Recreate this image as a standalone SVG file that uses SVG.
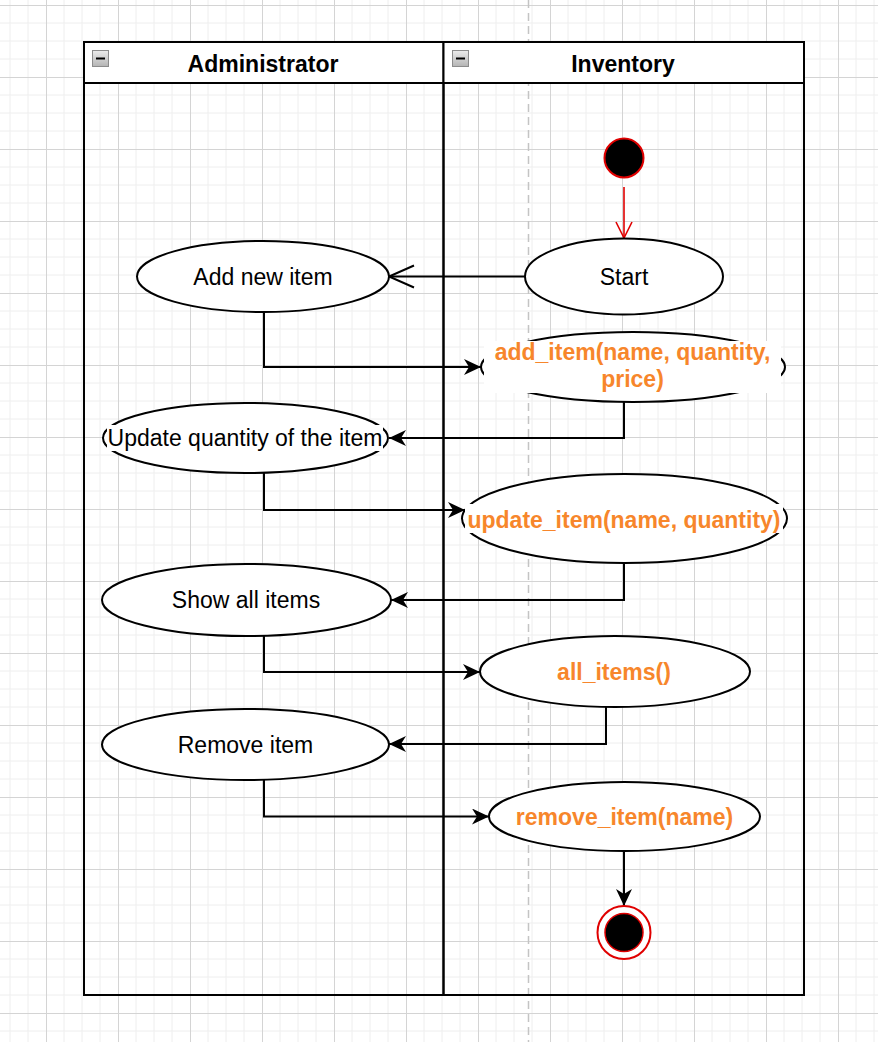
<svg xmlns="http://www.w3.org/2000/svg" width="878" height="1042" viewBox="0 0 878 1042">
  <defs>
    <pattern id="grid" patternUnits="userSpaceOnUse" x="46" y="5" width="72" height="72">
      <path d="M18,0V72M36,0V72M54,0V72M0,18H72M0,36H72M0,54H72" stroke="#eeeeee" stroke-width="1" fill="none"/>
      <path d="M0.5,0V72M0,0.5H72" stroke="#d4d4d4" stroke-width="1" fill="none"/>
    </pattern>
    <linearGradient id="iconGrad" x1="0" y1="0" x2="0" y2="1">
      <stop offset="0" stop-color="#ececec"/>
      <stop offset="1" stop-color="#b4b4b4"/>
    </linearGradient>
    <marker id="classic" markerUnits="userSpaceOnUse" markerWidth="20" markerHeight="18" refX="17" refY="8" orient="auto">
      <path d="M0,0 L17,8 L0,16 L5,8 Z" fill="#000"/>
    </marker>
    <marker id="openBig" markerUnits="userSpaceOnUse" markerWidth="30" markerHeight="26" refX="26" refY="12" orient="auto">
      <path d="M1,1 L26,12 L1,23" fill="none" stroke="#000" stroke-width="2"/>
    </marker>
    <marker id="openRed" markerUnits="userSpaceOnUse" markerWidth="20" markerHeight="20" refX="17" refY="9" orient="auto">
      <path d="M1,1 L17,9 L1,17" fill="none" stroke="#e00000" stroke-width="1.6"/>
    </marker>
  </defs>
  <style>
    .lbl { font-family: "Liberation Sans", Arial, Helvetica, sans-serif; font-size: 23px; fill: #000; text-anchor: middle; }
    .hdr { font-weight: bold; }
    .op { font-weight: bold; fill: #F7862B; }
    .node { fill: #fff; stroke: #000; stroke-width: 2; }
    .bg { fill: #fff; stroke: none; }
    .conn { fill: none; stroke: #000; stroke-width: 2; }
  </style>

  <rect width="878" height="1042" fill="#fff"/>
  <rect width="878" height="1042" fill="url(#grid)"/>
  <line x1="528.5" y1="0" x2="528.5" y2="1042" stroke="#c4c4c4" stroke-width="1.5" stroke-dasharray="8,5"/>

  <g id="pool">
    <g id="lane-administrator">
      <rect x="84" y="42" width="359.5" height="41" fill="#fff" stroke="#000" stroke-width="2"/>
      <rect x="84" y="83" width="359.5" height="912" fill="none" stroke="#000" stroke-width="2"/>
      <rect x="92.5" y="50.5" width="16" height="16" fill="url(#iconGrad)" stroke="#8c8c8c" stroke-width="1"/>
      <line x1="96" y1="58.5" x2="105" y2="58.5" stroke="#000" stroke-width="2"/>
      <text class="lbl hdr" x="263" y="72">Administrator</text>
    </g>
    <g id="lane-inventory">
      <rect x="443.5" y="42" width="360.5" height="41" fill="#fff" stroke="#000" stroke-width="2"/>
      <rect x="443.5" y="83" width="360.5" height="912" fill="none" stroke="#000" stroke-width="2"/>
      <rect x="452.5" y="50.5" width="16" height="16" fill="url(#iconGrad)" stroke="#8c8c8c" stroke-width="1"/>
      <line x1="456" y1="58.5" x2="465" y2="58.5" stroke="#000" stroke-width="2"/>
      <text class="lbl hdr" x="623" y="72">Inventory</text>
    </g>
  </g>

  <g id="connectors">
    <path class="conn" d="M624,187 V238" stroke="#e00000" style="stroke:#e00000;stroke-width:1.6" marker-end="url(#openRed)"/>
    <path class="conn" d="M525,276.5 H389" marker-end="url(#openBig)"/>
    <path class="conn" d="M264,312 V367 H481" marker-end="url(#classic)"/>
    <path class="conn" d="M624,402 V438 H389" marker-end="url(#classic)"/>
    <path class="conn" d="M264,473 V510 H465" marker-end="url(#classic)"/>
    <path class="conn" d="M624,563 V600 H391" marker-end="url(#classic)"/>
    <path class="conn" d="M264,636 V672 H480" marker-end="url(#classic)"/>
    <path class="conn" d="M606,707 V744 H389" marker-end="url(#classic)"/>
    <path class="conn" d="M264,780 V816.5 H489" marker-end="url(#classic)"/>
    <path class="conn" d="M624,851 V906" marker-end="url(#classic)"/>
  </g>

  <g id="start-node">
    <circle cx="624" cy="158" r="19.5" fill="#000" stroke="#e00000" stroke-width="2"/>
  </g>

  <g id="start">
    <ellipse class="node" cx="624" cy="276.5" rx="99" ry="38"/>
    <text class="lbl" x="624" y="284.5">Start</text>
  </g>

  <g id="add-new-item">
    <ellipse class="node" cx="263" cy="276.5" rx="126" ry="35.5"/>
    <text class="lbl" x="263" y="284.5">Add new item</text>
  </g>

  <g id="add-item">
    <ellipse class="node" cx="633" cy="367" rx="152" ry="35"/>
    <rect class="bg" x="484" y="341" width="297" height="52"/>
    <text class="lbl op" x="632.5" y="360">add_item(name, quantity,</text>
    <text class="lbl op" x="632.5" y="387">price)</text>
  </g>

  <g id="update-quantity">
    <ellipse class="node" cx="245.5" cy="438" rx="142.5" ry="35"/>
    <rect class="bg" x="107" y="425" width="276" height="26"/>
    <text class="lbl" x="245" y="445.5">Update quantity of the item</text>
  </g>

  <g id="update-item">
    <ellipse class="node" cx="624.5" cy="518.5" rx="162.5" ry="44.5"/>
    <rect class="bg" x="465" y="504" width="318" height="29"/>
    <text class="lbl op" x="624" y="527.5">update_item(name, quantity)</text>
  </g>

  <g id="show-all-items">
    <ellipse class="node" cx="246.5" cy="600" rx="144.5" ry="36"/>
    <text class="lbl" x="246" y="608">Show all items</text>
  </g>

  <g id="all-items">
    <ellipse class="node" cx="615" cy="671.5" rx="135" ry="35.5"/>
    <text class="lbl op" x="614" y="679.5">all_items()</text>
  </g>

  <g id="remove-item-admin">
    <ellipse class="node" cx="245.5" cy="744.5" rx="143.5" ry="35.5"/>
    <text class="lbl" x="245.5" y="752.5">Remove item</text>
  </g>

  <g id="remove-item">
    <ellipse class="node" cx="624.5" cy="816.5" rx="135.5" ry="34.5"/>
    <text class="lbl op" x="624.5" y="824.5">remove_item(name)</text>
  </g>

  <g id="end-node">
    <circle cx="624" cy="932.5" r="26.5" fill="#fff" stroke="#e00000" stroke-width="2"/>
    <circle cx="624" cy="932.5" r="19" fill="#000" stroke="#e00000" stroke-width="1.5"/>
  </g>
</svg>
